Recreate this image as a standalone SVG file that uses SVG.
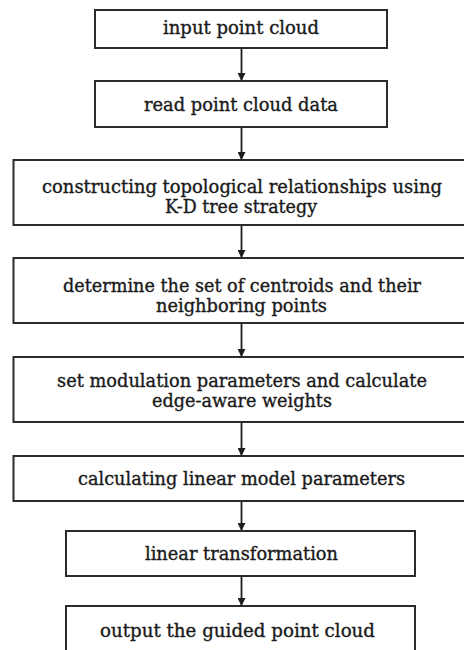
<svg xmlns="http://www.w3.org/2000/svg" width="464" height="650" viewBox="0 0 464 650">
  <style>
    .box { fill: #ffffff; stroke: #2b2b2b; stroke-width: 2; }
    .lbl { font-family: "DejaVu Serif", "Liberation Serif", serif; font-size: 18px; fill: #1a1a1a; stroke: #1a1a1a; stroke-width: 0.35; text-anchor: middle; }
    .edge { stroke: #1e1e1e; stroke-width: 1.8; fill: none; }
  </style>
  <defs>
    <marker id="arrow" viewBox="0 0 8 8" refX="8" refY="4" markerWidth="8" markerHeight="8" markerUnits="userSpaceOnUse" orient="auto">
      <path d="M0,0 L8,4 L0,8 Z" fill="#1e1e1e"/>
    </marker>
  </defs>
  <rect width="464" height="650" fill="#ffffff"/>

  <g id="connectors">
    <line class="edge" x1="241.5" y1="48" x2="241.5" y2="81" marker-end="url(#arrow)"/>
    <line class="edge" x1="241.5" y1="127" x2="241.5" y2="160" marker-end="url(#arrow)"/>
    <line class="edge" x1="241.5" y1="225" x2="241.5" y2="258" marker-end="url(#arrow)"/>
    <line class="edge" x1="241.5" y1="323" x2="241.5" y2="357" marker-end="url(#arrow)"/>
    <line class="edge" x1="241.5" y1="422" x2="241.5" y2="456" marker-end="url(#arrow)"/>
    <line class="edge" x1="241.5" y1="501" x2="241.5" y2="531" marker-end="url(#arrow)"/>
    <line class="edge" x1="241.5" y1="576" x2="241.5" y2="606" marker-end="url(#arrow)"/>
  </g>

  <g id="input">
    <rect class="box" x="95" y="10" width="292" height="38"/>
    <text class="lbl" x="241" y="33.5" textLength="156" lengthAdjust="spacingAndGlyphs">input point cloud</text>
  </g>
  <g id="read">
    <rect class="box" x="95" y="81" width="292" height="46"/>
    <text class="lbl" x="241" y="111" textLength="194" lengthAdjust="spacingAndGlyphs">read point cloud data</text>
  </g>
  <g id="topology">
    <rect class="box" x="13.5" y="160" width="470" height="65"/>
    <text class="lbl" x="242" y="193" textLength="400" lengthAdjust="spacingAndGlyphs">constructing topological relationships using</text>
    <text class="lbl" x="241" y="213" textLength="152" lengthAdjust="spacingAndGlyphs">K-D tree strategy</text>
  </g>
  <g id="centroids">
    <rect class="box" x="13.5" y="258" width="470" height="65"/>
    <text class="lbl" x="242" y="291.5" textLength="358" lengthAdjust="spacingAndGlyphs">determine the set of centroids and their</text>
    <text class="lbl" x="241.5" y="311.5" textLength="171" lengthAdjust="spacingAndGlyphs">neighboring points</text>
  </g>
  <g id="weights">
    <rect class="box" x="13.5" y="357" width="470" height="65"/>
    <text class="lbl" x="242" y="386.5" textLength="370" lengthAdjust="spacingAndGlyphs">set modulation parameters and calculate</text>
    <text class="lbl" x="242" y="406.5" textLength="180" lengthAdjust="spacingAndGlyphs">edge-aware weights</text>
  </g>
  <g id="model">
    <rect class="box" x="13.5" y="456" width="470" height="45"/>
    <text class="lbl" x="241.5" y="485" textLength="327" lengthAdjust="spacingAndGlyphs">calculating linear model parameters</text>
  </g>
  <g id="transform">
    <rect class="box" x="66" y="531" width="349" height="45"/>
    <text class="lbl" x="241.5" y="560" textLength="193" lengthAdjust="spacingAndGlyphs">linear transformation</text>
  </g>
  <g id="output">
    <rect class="box" x="66" y="606" width="349" height="60"/>
    <text class="lbl" x="237.5" y="636.5" textLength="275" lengthAdjust="spacingAndGlyphs">output the guided point cloud</text>
  </g>
</svg>
